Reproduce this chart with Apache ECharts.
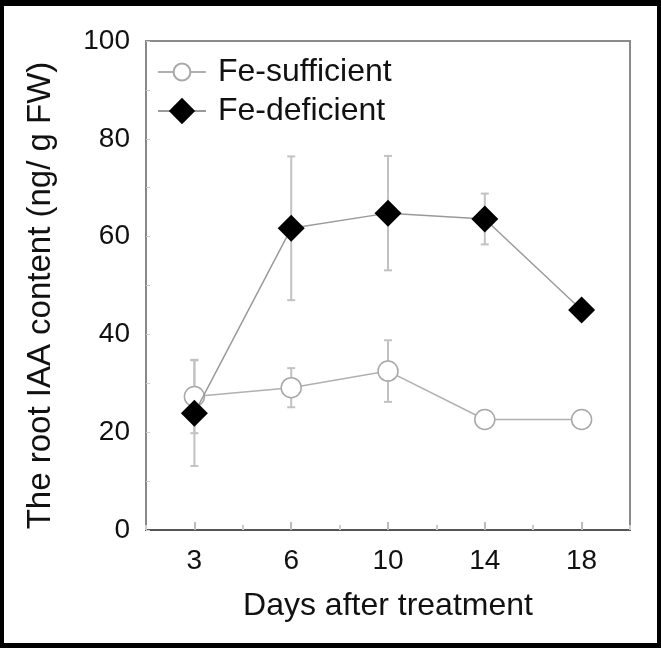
<!DOCTYPE html>
<html>
<head>
<meta charset="utf-8">
<script src="https://cdn.jsdelivr.net/npm/echarts@6/dist/echarts.min.js"></script>
<style>
html,body{margin:0;padding:0;background:#fff;}
#chart{position:absolute;left:0;top:0;width:661px;height:648px;}
#frame{position:absolute;left:0;top:0;width:661px;height:648px;box-sizing:border-box;border-style:solid;border-color:#000;border-width:6px 4px 5px 4px;pointer-events:none;}
</style>
</head>
<body>
<div id="chart"></div>
<div id="frame"></div>
<script>
const days = ['3', '6', '10', '14', '18'];
const sufficient = [27.3, 29.1, 32.5, 22.6, 22.6];
const sufficientErr = [7.5, 4.0, 6.3, 0, 0];
const deficient = [23.9, 61.7, 64.8, 63.6, 45.0];
const deficientErr = [10.8, 14.7, 11.7, 5.2, 0];
const yTicks = [0, 20, 40, 60, 80, 100];

const FONT = 'Liberation Sans, Arial, sans-serif';
const chart = echarts.init(document.getElementById('chart'), null, {renderer: 'canvas'});

function errData(vals, errs) {
  const out = [];
  vals.forEach((v, i) => { if (errs[i] > 0) out.push([i, v - errs[i], v + errs[i]]); });
  return out;
}
function renderErr(params, api) {
  const x = api.value(0);
  const lo = api.coord([x, api.value(1)]);
  const hi = api.coord([x, api.value(2)]);
  const w = 4;
  const style = {stroke: '#c2c2c2', lineWidth: 2, fill: null};
  return {
    type: 'group',
    children: [
      {type: 'line', shape: {x1: lo[0], y1: lo[1], x2: hi[0], y2: hi[1]}, style},
      {type: 'line', shape: {x1: lo[0] - w, y1: lo[1], x2: lo[0] + w, y2: lo[1]}, style},
      {type: 'line', shape: {x1: hi[0] - w, y1: hi[1], x2: hi[0] + w, y2: hi[1]}, style}
    ]
  };
}

const option = {
  animation: false,
  backgroundColor: '#fff',
  grid: {left: 146, top: 41, right: 31, bottom: 118, show: true, borderColor: '#8a8a8a', borderWidth: 2, backgroundColor: 'transparent'},
  legend: [
    {data: ['Fe-sufficient'], left: 157, top: 56, padding: 0, itemWidth: 48, itemHeight: 21,
     textStyle: {fontFamily: FONT, fontSize: 32, color: '#111', padding: [0, 0, 0, 7]}},
    {data: ['Fe-deficient'], left: 157, top: 95, padding: 0, itemWidth: 48, itemHeight: 33,
     textStyle: {fontFamily: FONT, fontSize: 32, color: '#111', padding: [0, 0, 0, 7]}}
  ],
  xAxis: [
    {
      type: 'category', data: days, boundaryGap: true,
      name: 'Days after treatment', nameLocation: 'middle', nameGap: 60,
      nameTextStyle: {fontFamily: FONT, fontSize: 32, color: '#111'},
      axisLine: {show: true, lineStyle: {color: '#555', width: 2}},
      axisTick: {show: true, inside: true, alignWithLabel: true, length: 8, lineStyle: {color: '#bbb', width: 2}},
      axisLabel: {fontFamily: FONT, fontSize: 28, color: '#111', margin: 17},
      splitLine: {show: false}
    },
    {
      type: 'category', data: days, boundaryGap: true, position: 'bottom',
      axisLine: {show: false},
      axisTick: {show: true, inside: true, length: 5, lineStyle: {color: '#ccc', width: 2}},
      axisLabel: {show: false},
      splitLine: {show: false}
    }
  ],
  yAxis: {
    type: 'value', min: 0, max: 100, interval: 20,
    name: 'The root IAA content (ng/ g FW)', nameLocation: 'middle', nameGap: 89,
    nameTextStyle: {fontFamily: FONT, fontSize: 33, color: '#111', padding: [0, 20, 0, 0]},
    axisLine: {show: true, lineStyle: {color: '#888', width: 2}},
    axisTick: {show: true, inside: true, length: 4, lineStyle: {color: '#ccc', width: 1}},
    minorTick: {show: true, splitNumber: 2, length: 4, lineStyle: {color: '#ccc', width: 1}},
    axisLabel: {fontFamily: FONT, fontSize: 28, color: '#111', margin: 16,
      formatter: v => yTicks.includes(v) ? String(v) : ''},
    splitLine: {show: false}
  },
  series: [
    {type: 'custom', name: 'errS', renderItem: renderErr, data: errData(sufficient, sufficientErr), z: 1, silent: true, encode: {x: 0, y: [1, 2]}},
    {type: 'custom', name: 'errD', renderItem: renderErr, data: errData(deficient, deficientErr), z: 1, silent: true, encode: {x: 0, y: [1, 2]}},
    {
      type: 'line', name: 'Fe-sufficient', data: sufficient, z: 2,
      symbol: 'circle', symbolSize: 20, showAllSymbol: true,
      lineStyle: {color: '#b0b0b0', width: 1.5},
      itemStyle: {color: '#fff', borderColor: '#a8a8a8', borderWidth: 1.5}
    },
    {
      type: 'line', name: 'Fe-deficient', data: deficient, z: 3,
      symbol: 'diamond', symbolSize: 27, showAllSymbol: true,
      lineStyle: {color: '#9a9a9a', width: 1.5},
      itemStyle: {color: '#000', borderColor: '#000', borderWidth: 0}
    }
  ]
};
chart.setOption(option);
</script>
</body>
</html>
